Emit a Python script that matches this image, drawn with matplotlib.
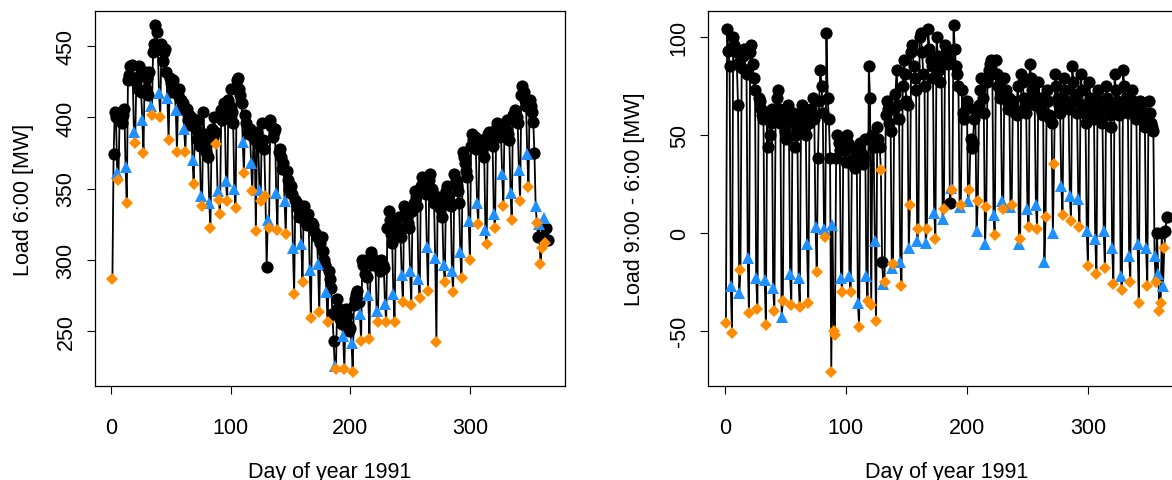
import numpy as np
import pandas as pd
import matplotlib
matplotlib.use('Agg')
import matplotlib.pyplot as plt

plt.rcParams['font.family'] = ['Liberation Sans', 'DejaVu Sans']
plt.rcParams['axes.unicode_minus'] = False

# daily values 1991, one row per week (Mon..Sun), first row starts Tue 1 Jan
load6 = [
    286, 374, 404, 400, 361, 356,
    398, 403, 396, 402, 406, 365, 340,
    426, 430, 436, 437, 428, 390, 382,
    425, 420, 436, 430, 418, 398, 375,
    432, 420, 428, 416, 432, 408, 402,
    446, 452, 465, 460, 448, 417, 400,
    452, 440, 446, 448, 432, 414, 384,
    428, 424, 418, 426, 420, 405, 376,
    416, 420, 412, 406, 410, 392, 376,
    406, 398, 402, 395, 400, 370, 353,
    396, 392, 385, 398, 380, 345, 338,
    404, 388, 376, 382, 372, 340, 322,
    392, 386, 400, 390, 381, 348, 342,
    332, 405, 398, 410, 402, 355, 341,
    412, 408, 420, 404, 396, 350, 336,
    426, 428, 420, 416, 410, 383, 361,
    402, 396, 390, 388, 392, 368, 348,
    386, 384, 320, 390, 382, 349, 341,
    396, 384, 378, 345, 295, 328, 322,
    398, 394, 386, 390, 392, 347, 321,
    376, 378, 372, 364, 368, 341, 318,
    362, 356, 350, 352, 346, 308, 276,
    342, 340, 336, 330, 334, 311, 284,
    338, 330, 326, 324, 332, 293, 259,
    326, 324, 320, 318, 316, 297, 263,
    312, 316, 306, 300, 296, 277, 256,
    292, 286, 280, 262, 243, 225, 223,
    272, 266, 258, 262, 255, 246, 223,
    265, 260, 254, 250, 252, 241, 221,
    268, 272, 276, 278, 270, 262, 243,
    300, 296, 290, 300, 288, 275, 244,
    305, 302, 296, 300, 298, 264, 256,
    298, 292, 300, 296, 294, 269, 256,
    322, 334, 328, 318, 312, 276, 256,
    326, 318, 322, 330, 316, 289, 270,
    338, 336, 330, 326, 322, 292, 268,
    334, 340, 348, 344, 338, 286, 273,
    352, 358, 354, 350, 346, 309, 278,
    356, 360, 350, 346, 340, 301, 242,
    340, 344, 336, 338, 330, 296, 284,
    348, 352, 345, 340, 338, 292, 277,
    360, 356, 352, 348, 340, 305, 287,
    376, 372, 368, 362, 358, 327, 300,
    380, 388, 384, 386, 378, 340, 325,
    382, 384, 378, 380, 372, 321, 311,
    388, 390, 386, 384, 380, 332, 322,
    392, 396, 390, 386, 388, 360, 338,
    396, 392, 398, 388, 384, 347, 328,
    402, 398, 405, 400, 396, 363, 341,
    416, 422, 418, 412, 408, 374, 351,
    412, 408, 404, 397, 375, 338, 326,
    316, 325, 297, 308, 316, 329, 312,
    322, 314,
]

diff96 = [
    -46, 104, 93, 85, -27, -51,
    100, 96, 92, 86, 65, -31, -19,
    84, 90, 94, 83, 81, -13, -41,
    92, 96, 86, 79, 73, -23, -39,
    69, 67, 63, 60, 58, -24, -47,
    61, 44, 50, 56, 63, -28, -40,
    58, 69, 73, 63, 56, -43, -35,
    60, 52, 48, 65, 58, -21, -37,
    61, 56, 44, 50, 53, -23, -38,
    61, 65, 58, 54, 50, -6, -36,
    56, 63, 61, 69, 58, 3, -20,
    38, 67, 83, 75, 61, 2, -2,
    102, 69, 58, 38, -71, 4, -50,
    -52, 38, 50, 46, 42, -23, -30,
    48, 42, 36, 50, 46, -22, -30,
    35, 44, 38, 33, 40, -36, -48,
    46, 40, 35, 38, 48, -22, -35,
    85, 69, -37, 50, 44, -4, -45,
    54, 48, 44, 32, -15, -26, -25,
    60, 67, 63, 56, 52, -18, -16,
    63, 71, 83, 65, 58, -15, -27,
    75, 88, 81, 67, 65, -8, 14,
    92, 96, 85, 79, 73, -4, 2,
    100, 102, 92, 81, 75, -5, 2,
    104, 94, 88, 85, 79, 10, -3,
    100, 90, 83, 77, 88, 7, 12,
    96, 92, 86, 88, 15, 23, 22,
    106, 94, 85, 81, 75, 13, 14,
    73, 61, 58, 63, 67, 16, 22,
    48, 43, 46, 58, 63, 1, 16,
    65, 73, 79, 69, 61, -6, 13,
    77, 83, 86, 88, 81, 9, -1,
    88, 81, 75, 69, 71, 16, 12,
    79, 73, 67, 63, 69, 13, 14,
    67, 63, 61, 60, 75, -6, -3,
    81, 77, 69, 65, 61, 12, 3,
    86, 79, 73, 67, 65, 14, 2,
    77, 69, 63, 61, 60, -15, 8,
    73, 67, 60, 58, 56, 0, 35,
    81, 75, 69, 65, 61, 24, 9,
    79, 73, 67, 65, 63, 19, 6,
    85, 77, 71, 67, 61, 17, 3,
    81, 73, 65, 61, 56, 1, -17,
    77, 69, 63, 60, 58, -3, -21,
    73, 67, 63, 58, 56, 1, -18,
    75, 69, 65, 60, 54, -8, -26,
    81, 73, 67, 63, 60, -22, -29,
    83, 75, 69, 65, 61, -12, -25,
    73, 67, 65, 60, 58, -6, -36,
    67, 63, 60, 56, 54, -8, -27,
    67, 61, 56, 54, 52, -12, -25,
    0, -21, -40, -36, 0, -27, -8,
    1, 8,
]

holidays = [1, 88, 91, 121, 129, 359, 360]   # drawn like Sundays
half_days = [358]                            # drawn like Saturdays

days = np.arange(1, 366)
dow = pd.date_range('1991-01-01', periods=365).dayofweek.values
is_sun = (dow == 6) | np.isin(days, holidays)
is_sat = ((dow == 5) | np.isin(days, half_days)) & ~is_sun
is_wd = ~is_sun & ~is_sat

fig = plt.figure(figsize=(11.72, 4.81), dpi=100)
ax1 = fig.add_axes([95 / 1172, 94.3 / 481, 470 / 1172, 374.5 / 481])
ax2 = fig.add_axes([708.3 / 1172, 94.3 / 481, 476 / 1172, 374.5 / 481])

panels = [(ax1, np.array(load6), 'Load 6:00 [MW]', [250, 300, 350, 400, 450]),
          (ax2, np.array(diff96), 'Load 9:00 - 6:00 [MW]', [-50, 0, 50, 100])]

for ax, y, lab, yt in panels:
    ax.plot(days, y, color='black', lw=1.3, zorder=1)
    ax.plot(days[is_wd], y[is_wd], 'o', color='black', ms=8.8, mew=0, zorder=2)
    ax.plot(days[is_sat], y[is_sat], '^', color='#1E90FF', ms=8.6, mew=0, zorder=3)
    ax.plot(days[is_sun], y[is_sun], 'D', color='#FF8C00', ms=6.6, mew=0, zorder=3)
    ax.margins(0.04)
    ax.set_xticks([0, 100, 200, 300])
    ax.set_yticks(yt)
    ax.tick_params(direction='out', length=5.8, width=0.8, labelsize=15.5)
    ax.tick_params(axis='x', pad=16.5)
    ax.tick_params(axis='y', pad=7.5, labelrotation=90)
    for t in ax.get_yticklabels():
        t.set_va('center')
    for s in ax.spines.values():
        s.set_linewidth(0.9)
    ax.set_xlabel('Day of year 1991', fontsize=15.5)
    ax.set_ylabel(lab, fontsize=15.5)
    ax.xaxis.set_label_coords(0.5, -0.228)
    ax.xaxis.label.set_va('center')
    ax.yaxis.label.set_va('center')

ax1.yaxis.set_label_coords(-0.153, 0.5)
ax2.yaxis.set_label_coords(-0.154, 0.5)

plt.savefig('out.png', dpi=100)
plt.close()
